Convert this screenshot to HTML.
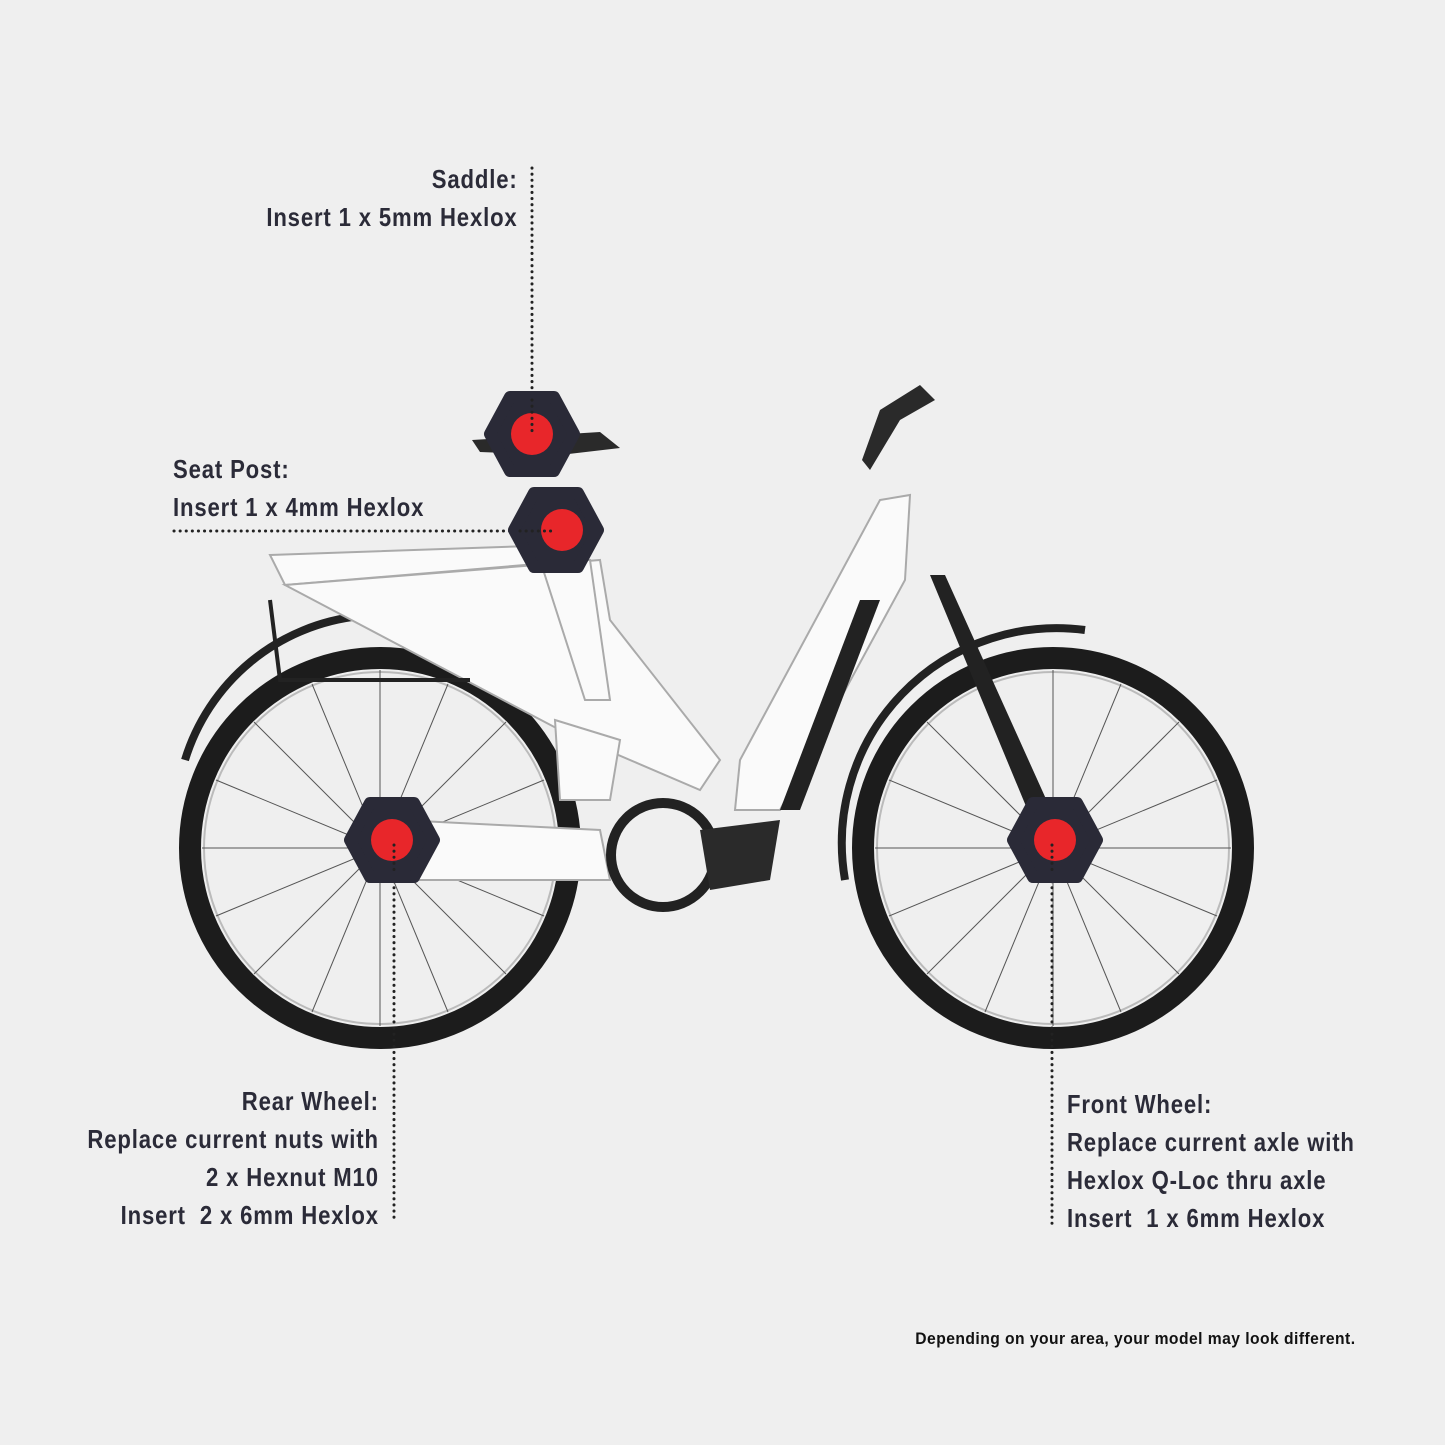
<!DOCTYPE html>
<html><head><style>
html,body{margin:0;padding:0;background:#efefef;}
body{width:1445px;height:1445px;position:relative;overflow:hidden;font-family:"Liberation Sans Narrow","Liberation Sans",sans-serif;}
.t{position:absolute;color:#2b2b38;font-weight:bold;font-size:26px;line-height:38px;letter-spacing:1px;white-space:nowrap;transform:scaleX(0.85);}
.r{text-align:right;transform-origin:right top;}
.l{transform-origin:left top;}
</style></head><body>
<svg width="1445" height="1445" style="position:absolute;left:0;top:0">
<g fill="none">
<circle cx="380" cy="848" r="190" stroke="#1c1c1c" stroke-width="22"/>
<circle cx="380" cy="848" r="176" stroke="#bbb" stroke-width="2"/>
<circle cx="1053" cy="848" r="190" stroke="#1c1c1c" stroke-width="22"/>
<circle cx="1053" cy="848" r="176" stroke="#bbb" stroke-width="2"/>
<g stroke="#555" stroke-width="1">
<line x1="380" y1="670" x2="380" y2="1026"/><line x1="202" y1="848" x2="558" y2="848"/>
<line x1="254" y1="722" x2="506" y2="974"/><line x1="254" y1="974" x2="506" y2="722"/>
<line x1="312" y1="684" x2="448" y2="1012"/><line x1="216" y1="780" x2="544" y2="916"/>
<line x1="448" y1="684" x2="312" y2="1012"/><line x1="216" y1="916" x2="544" y2="780"/>
<line x1="1053" y1="670" x2="1053" y2="1026"/><line x1="875" y1="848" x2="1231" y2="848"/>
<line x1="927" y1="722" x2="1179" y2="974"/><line x1="927" y1="974" x2="1179" y2="722"/>
<line x1="985" y1="684" x2="1121" y2="1012"/><line x1="889" y1="780" x2="1217" y2="916"/>
<line x1="1121" y1="684" x2="985" y2="1012"/><line x1="889" y1="916" x2="1217" y2="780"/>
</g>
<path d="M185 760 A205 205 0 0 1 560 720" stroke="#222" stroke-width="8"/>
<path d="M845 880 A215 215 0 0 1 1085 630" stroke="#222" stroke-width="8"/>
</g>
<g stroke="#aaa" stroke-width="2" fill="#fafafa">
<path d="M270 555 L560 545 L585 560 L285 585 Z"/>
<path d="M285 585 L600 560 L610 620 L720 760 L700 790 L560 730 Z"/>
<path d="M880 500 L910 495 L905 580 L780 810 L735 810 L740 760 Z"/>
<path d="M540 560 L590 560 L610 700 L585 700 Z"/>
<path d="M400 820 L600 830 L610 880 L400 880 Z"/>
<path d="M555 720 L620 740 L610 800 L560 800 Z"/>
</g>
<path d="M860 600 L780 810 L800 810 L880 600 Z" fill="#222"/>
<path d="M930 575 L945 575 L1060 830 L1040 840 Z" fill="#222"/>
<circle cx="663" cy="855" r="52" fill="none" stroke="#222" stroke-width="10"/>
<path d="M700 830 L780 820 L770 880 L710 890 Z" fill="#2a2a2a"/>
<path d="M870 470 L900 420 L935 400 L920 385 L880 410 L862 460 Z" fill="#2a2a2a"/>
<path d="M472 440 L600 432 L620 448 L560 455 L480 452 Z" fill="#2a2a2a"/>
<path d="M270 600 L280 680 L470 680" fill="none" stroke="#222" stroke-width="4"/>
<g stroke="#222" stroke-width="3" stroke-dasharray="0.1 6" stroke-linecap="round" fill="none">
<line x1="532" y1="168" x2="532" y2="436"/>
<line x1="174" y1="531" x2="556" y2="531"/>
<line x1="394" y1="845" x2="394" y2="1222"/>
<line x1="1052" y1="845" x2="1052" y2="1225"/>
</g>
<g fill="#2a2a37" stroke="#2a2a37" stroke-width="12" stroke-linejoin="round">
<polygon points="510,397 554,397 574,434 554,471 510,471 490,434"/>
<polygon points="534,493 578,493 598,530 578,567 534,567 514,530"/>
<polygon points="370,803 414,803 434,840 414,877 370,877 350,840"/>
<polygon points="1033,803 1077,803 1097,840 1077,877 1033,877 1013,840"/>
</g>
<g fill="#e8262a">
<circle cx="532" cy="434" r="21"/><circle cx="562" cy="530" r="21"/>
<circle cx="392" cy="840" r="21"/><circle cx="1055" cy="840" r="21"/>
</g>
<g stroke="#222" stroke-width="3" stroke-dasharray="0.1 6" stroke-linecap="round">
<line x1="532" y1="400" x2="532" y2="436"/><line x1="520" y1="531" x2="556" y2="531"/>
<line x1="394" y1="845" x2="394" y2="870"/><line x1="1052" y1="845" x2="1052" y2="870"/>
</g>
</svg>
<div class="t r" style="right:927px;top:160px">Saddle:<br>Insert 1 x 5mm Hexlox</div>
<div class="t l" style="left:173px;top:450px">Seat Post:<br>Insert 1 x 4mm Hexlox</div>
<div class="t r" style="right:1066px;top:1082px">Rear Wheel:<br>Replace current nuts with<br>2 x Hexnut M10<br>Insert&nbsp; 2 x 6mm Hexlox</div>
<div class="t l" style="left:1067px;top:1085px">Front Wheel:<br>Replace current axle with<br>Hexlox Q-Loc thru axle<br>Insert&nbsp; 1 x 6mm Hexlox</div>
<div class="t r" style="right:89px;top:1320px;font-size:17px;color:#111;letter-spacing:0.5px;transform:scaleX(0.92)">Depending on your area, your model may look different.</div>
</body></html>
